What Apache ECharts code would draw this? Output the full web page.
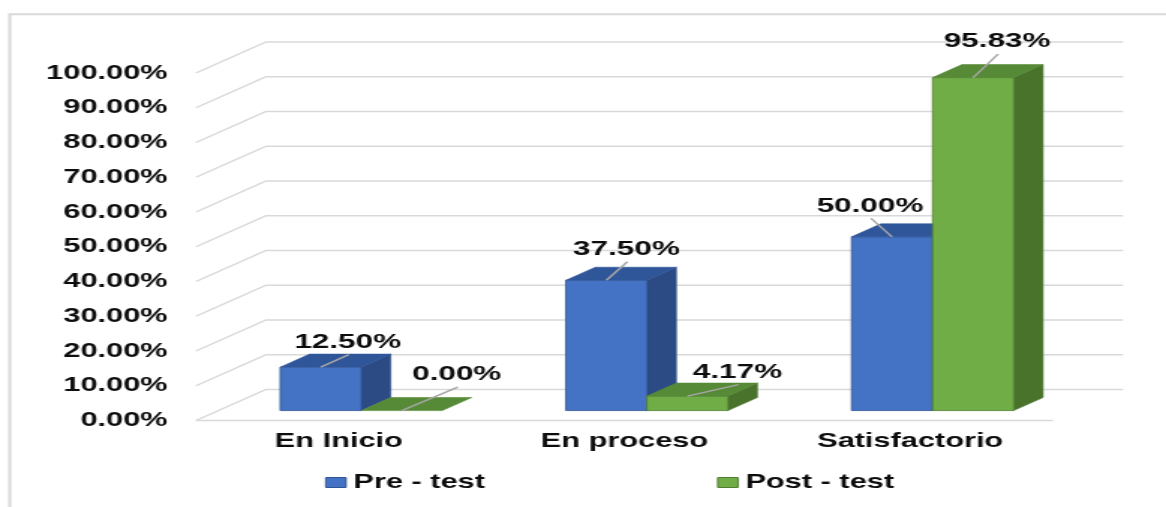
<!DOCTYPE html>
<html><head><meta charset="utf-8">
<style>
html,body{margin:0;padding:0;background:#fff;overflow:hidden;}
#wrap{width:1166px;height:507px;overflow:hidden;position:relative;background:#fff;}
#chart{width:778px;height:507px;transform:scaleX(1.49871);transform-origin:0 0;}
</style>
<script src="https://cdn.jsdelivr.net/npm/echarts@6.0.0/dist/echarts.min.js"></script>
</head><body><div id="wrap"><div id="chart"></div></div>
<script>
// ---- data ----
const categories = ['En Inicio', 'En proceso', 'Satisfactorio'];
const seriesNames = ['Pre - test', 'Post - test'];
const preTest = [12.50, 37.50, 50.00];
const postTest = [0.00, 4.17, 95.83];
const yTicks = [0, 10, 20, 30, 40, 50, 60, 70, 80, 90, 100];

// ---- layout / style (stretched picture is 1.5x wider than the drawing) ----
const S = 1166 / 778;
const DX = 70 / S, DY = -31;          // depth vector of the 3D floor
const D0 = 0.32, D1 = 0.74;           // bar depth range
const BAR_FRAC = 81 / 285.5;          // each bar width / band width
const FONT = "'Liberation Sans', Arial, sans-serif";
const palette = [
  {front: '#4472C4', top: '#30569A', side: '#2C4B85', edge: '#2F5597'},
  {front: '#70AD47', top: '#578A37', side: '#49722B', edge: '#507E33'}
];
// manual nudges of data labels relative to bar top (like dragged Excel labels)
const labelNudge = [
  [[27, -25], [20, -31], [-22, -31]],
  [[55, -36], [50, -24], [24, -36]]
];

function fmt(v){ return v.toFixed(2) + '%'; }

function barRender(si){
  const col = palette[si];
  return function(params, api){
    const c = api.value(0), v = api.value(1);
    const base = api.coord([c, 0]);
    const topP = api.coord([c, v]);
    const bandW = api.size([1, 0])[0];
    const bw = bandW * BAR_FRAC;
    const x0 = base[0] - bw + si * bw, x1 = x0 + bw;
    const fx = D0 * DX, fy = D0 * DY, bx = D1 * DX, by = D1 * DY;
    const yb = base[1], yt = topP[1];
    const ch = [];
    if (yb - yt > 0.3) {
      ch.push({type: 'polygon', shape: {points: [[x1 + fx, yt + fy], [x1 + bx, yt + by], [x1 + bx, yb + by], [x1 + fx, yb + fy]]},
        style: {fill: col.side, stroke: col.side, lineWidth: 0.6}});
      ch.push({type: 'rect', shape: {x: x0 + fx, y: yt + fy, width: bw, height: yb - yt},
        style: {fill: col.front, stroke: col.edge, lineWidth: 0.8}});
    }
    ch.push({type: 'polygon', shape: {points: [[x0 + fx, yt + fy], [x1 + fx, yt + fy], [x1 + bx, yt + by], [x0 + bx, yt + by]]},
      style: {fill: col.top, stroke: col.top, lineWidth: 0.6}});
    const cx = (x0 + x1) / 2 + fx, cy = yt + fy;
    const n = labelNudge[si][c];
    const lx = cx + n[0] / S, ly = cy + n[1];
    ch.push({type: 'line', shape: {x1: cx, y1: cy, x2: lx + 1 / S, y2: ly + 12.5},
      style: {stroke: '#A6A6A6', lineWidth: 1.5}});
    ch.push({type: 'text', x: lx, y: ly, style: {text: fmt(v), fill: '#0D0D0D',
      font: 'bold 21px ' + FONT, align: 'center', verticalAlign: 'middle'}});
    return {type: 'group', children: ch};
  };
}

function gridRender(params, api){
  const v = api.value(1);
  const cs = params.coordSys;
  const left = cs.x, right = cs.x + cs.width;
  const y = api.coord([0, v])[1];
  const ch = [{type: 'polyline', shape: {points: [[left, y], [left + DX, y + DY], [right + DX, y + DY]]},
    style: {stroke: '#D9D9D9', lineWidth: 1.5, fill: null}}];
  if (v === 0) ch.push({type: 'line', shape: {x1: left, y1: y, x2: right, y2: y}, style: {stroke: '#D9D9D9', lineWidth: 1.5}});
  return {type: 'group', children: ch};
}

const legendText = {color: '#0D0D0D', fontWeight: 'bold', fontSize: 20.5, fontFamily: FONT};
const chart = echarts.init(document.getElementById('chart'), null, {renderer: 'canvas'});
chart.setOption({
  animation: false,
  backgroundColor: '#fff',
  graphic: [{type: 'rect', shape: {x: 6.5, y: 14.3, width: 2000, height: 2000}, style: {fill: null, stroke: '#D9D9D9', lineWidth: 2}, silent: true, z: -10}],
  grid: {left: 196 / S, right: 778 - 1053 / S, top: 73, bottom: 86.5},
  xAxis: {type: 'category', data: categories, axisLine: {show: false}, axisTick: {show: false},
    axisLabel: {margin: 10, color: '#0D0D0D', fontWeight: 'bold', fontSize: 20.5, fontFamily: FONT}},
  yAxis: {type: 'value', min: 0, max: 100, interval: 10, axisLine: {show: false}, axisTick: {show: false}, splitLine: {show: false},
    axisLabel: {margin: 19, color: '#0D0D0D', fontWeight: 'bold', fontSize: 20.5, fontFamily: FONT, formatter: fmt}},
  legend: [
    {data: [{name: seriesNames[0], itemStyle: {color: palette[0].front, borderColor: palette[0].edge, borderWidth: 1}}],
      left: 325 / S - 5, top: 467, icon: 'rect', itemWidth: 13.5, itemHeight: 10, itemGap: 0, selectedMode: false,
      textStyle: legendText},
    {data: [{name: seriesNames[1], itemStyle: {color: palette[1].front, borderColor: palette[1].edge, borderWidth: 1}}],
      left: 717 / S - 5, top: 467, icon: 'rect', itemWidth: 13.5, itemHeight: 10, itemGap: 0, selectedMode: false,
      textStyle: legendText}
  ],
  series: [
    {type: 'custom', name: '_grid', silent: true, z: 1, clip: false, renderItem: gridRender,
      data: yTicks.map(v => [0, v])},
    {type: 'custom', name: seriesNames[0], z: 2, clip: false, renderItem: barRender(0),
      itemStyle: {color: palette[0].front}, data: preTest.map((v, i) => [i, v])},
    {type: 'custom', name: seriesNames[1], z: 3, clip: false, renderItem: barRender(1),
      itemStyle: {color: palette[1].front}, data: postTest.map((v, i) => [i, v])}
  ]
});
</script>
</body></html>
